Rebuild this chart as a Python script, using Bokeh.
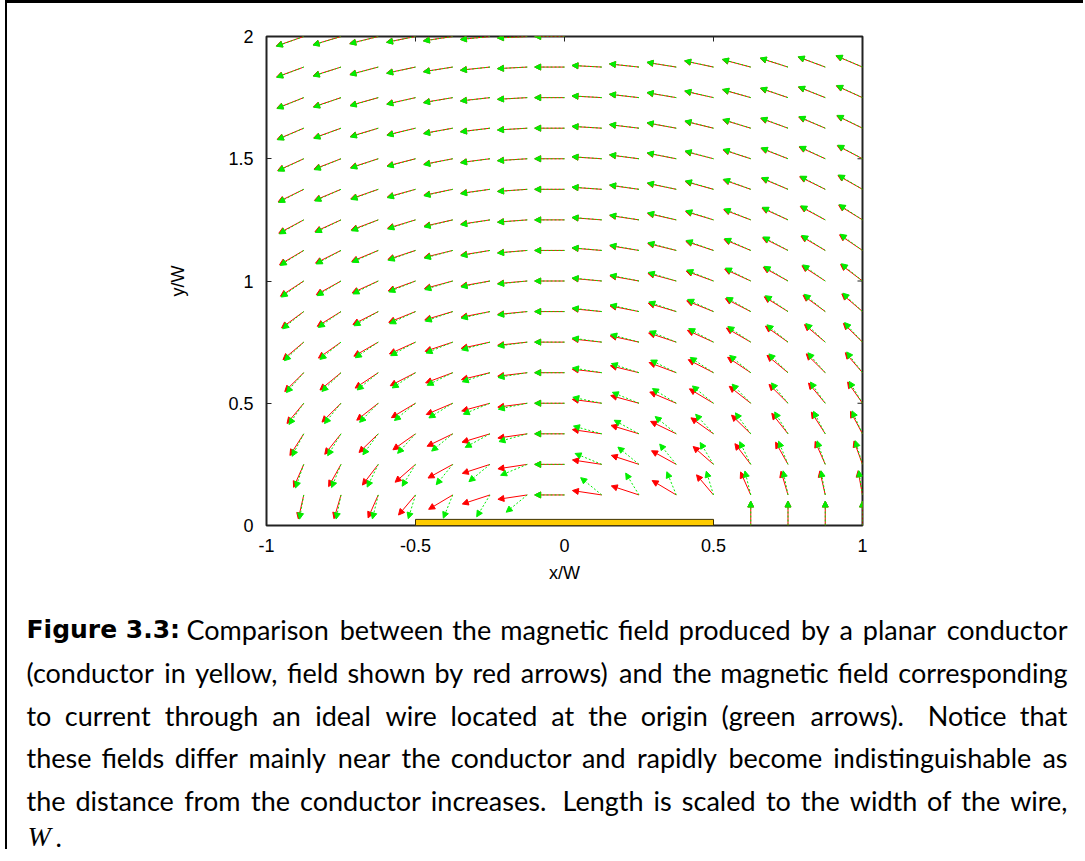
import math
from bokeh.plotting import figure
from bokeh.models import (ColumnDataSource, Arrow, NormalHead, FixedTicker, Range1d)
from bokeh.embed import file_html
from bokeh.resources import INLINE
from bokeh.core.properties import value

# ---------------- data ----------------
X_GRID = [-1.0, -0.875, -0.75, -0.625, -0.5, -0.375, -0.25, -0.125, 0.0,
          0.125, 0.25, 0.375, 0.5, 0.625, 0.75, 0.875, 1.0]
Y_GRID = [0.0, 0.125, 0.25, 0.375, 0.5, 0.625, 0.75, 0.875, 1.0,
          1.125, 1.25, 1.375, 1.5, 1.625, 1.75, 1.875, 2.0]
CONDUCTOR_X = [-0.5, 0.5]          # planar conductor (yellow strip), x/W
CONDUCTOR_THICKNESS = [0.025]      # drawn thickness, y/W
WIRE_POS = [0.0, 0.0]              # ideal wire at the origin
ARROW_LENGTH = 0.1                 # arrows normalised to this length
X_TICKS = [-1, -0.5, 0, 0.5, 1]
X_TICK_LABELS = ["-1", "-0.5", "0", "0.5", "1"]
Y_TICKS = [0, 0.5, 1, 1.5, 2]
Y_TICK_LABELS = ["0", "0.5", "1", "1.5", "2"]
X_LIMITS = [-1, 1]
Y_LIMITS = [0, 2]

CAPTION_BOLD = "Figure 3.3:"
CAPTION_LINES = [
    "Comparison between the magnetic field produced by a planar conductor",
    "(conductor in yellow, field shown by red arrows) and the magnetic field corresponding",
    "to current through an ideal wire located at the origin (green arrows). Notice that",
    "these fields differ mainly near the conductor and rapidly become indistinguishable as",
    "the distance from the conductor increases. Length is scaled to the width of the wire,",
]
CAPTION_LAST = "W"


# ---------------- field models (Biot-Savart) ----------------
def strip_field(x, y):
    a0, a1 = CONDUCTOR_X
    bx = -(math.atan2(x - a0, y) - math.atan2(x - a1, y))
    by = 0.5 * math.log(((x - a0) ** 2 + y ** 2) / ((x - a1) ** 2 + y ** 2))
    return bx, by


def wire_field(x, y):
    dx, dy = x - WIRE_POS[0], y - WIRE_POS[1]
    r2 = dx * dx + dy * dy
    return -dy / r2, dx / r2


def arrows(field):
    d = dict(x0=[], y0=[], x1=[], y1=[])
    eps = 1e-9
    for yv in Y_GRID:
        for xv in X_GRID:
            if yv == 0 and CONDUCTOR_X[0] <= xv <= CONDUCTOR_X[1]:
                continue
            bx, by = field(xv, yv)
            n = math.hypot(bx, by)
            xe = xv + ARROW_LENGTH * bx / n
            ye = yv + ARROW_LENGTH * by / n
            if (X_LIMITS[0] - eps <= xe <= X_LIMITS[1] + eps and
                    Y_LIMITS[0] - eps <= ye <= Y_LIMITS[1] + eps):
                d["x0"].append(xv); d["y0"].append(yv)
                d["x1"].append(xe); d["y1"].append(ye)
    return ColumnDataSource(d)


# ---------------- chart ----------------
W_TOTAL, OFF_X, OFF_Y = 1085, 7, 3
FIG_W = W_TOTAL - OFF_X
ROOT_GAP = 7          # the page puts a small gap between the two roots
H1 = 600 - ROOT_GAP

p = figure(width=FIG_W, height=H1, output_backend="svg", toolbar_location=None,
           x_range=Range1d(*X_LIMITS), y_range=Range1d(*Y_LIMITS),
           min_border_left=266 - OFF_X, min_border_right=FIG_W - (862 - OFF_X),
           min_border_top=36 - OFF_Y, min_border_bottom=OFF_Y + H1 - 525)
p.styles = {"vertical-align": "top", "border-left": "2px solid black",
            "border-top": "3px solid black", "margin-left": "5px"}
p.grid.visible = False
p.background_fill_color = "white"
p.border_fill_color = "white"
p.outline_line_color = "#222222"
p.outline_line_width = 2

FONT = "Liberation Sans"
for ax, ticks, labels in ((p.xaxis[0], X_TICKS, X_TICK_LABELS),
                          (p.yaxis[0], Y_TICKS, Y_TICK_LABELS)):
    ax.ticker = FixedTicker(ticks=ticks)
    ax.major_label_overrides = {t: l for t, l in zip(ticks, labels)}
    ax.major_tick_in = 5
    ax.major_tick_out = 0
    ax.minor_tick_line_color = None
    ax.major_tick_line_color = "#222222"
    ax.axis_line_color = None
    ax.major_label_text_font = FONT
    ax.major_label_text_font_size = "18px"
    ax.major_label_text_color = "black"
    ax.axis_label_text_font = FONT
    ax.axis_label_text_font_size = "18px"
    ax.axis_label_text_font_style = "normal"
    ax.axis_label_text_color = "black"

p.xaxis.major_tick_line_color = None   # bottom ticks drawn below the conductor
p.xaxis.axis_label = "x/W"
p.yaxis.axis_label = "y/W"
p.xaxis.major_label_standoff = 13
p.xaxis.axis_label_standoff = 8
p.yaxis.major_label_standoff = 13
p.yaxis.axis_label_standoff = 37

# tick marks on bottom, top and right borders (gnuplot style, pointing inwards)
TICK_DX = 5 / 298.0
TICK_DY = 5 / 244.5
nx, ny = len(X_TICKS), len(Y_TICKS)
p.segment(x0=X_TICKS * 2, x1=X_TICKS * 2,
          y0=[Y_LIMITS[0]] * nx + [Y_LIMITS[1]] * nx,
          y1=[Y_LIMITS[0] + TICK_DY] * nx + [Y_LIMITS[1] - TICK_DY] * nx,
          line_color="#222222", line_width=1)
p.segment(x0=[X_LIMITS[1]] * ny, x1=[X_LIMITS[1] - TICK_DX] * ny,
          y0=Y_TICKS, y1=Y_TICKS, line_color="#222222", line_width=1)

# conductor strip
p.quad(left=[CONDUCTOR_X[0]], right=[CONDUCTOR_X[1]], bottom=[0],
       top=CONDUCTOR_THICKNESS, fill_color="#ffcc00",
       line_color="#3d3000", line_width=1)

RED, GREEN = "#ff0000", "#00ee00"
p.add_layout(Arrow(end=NormalHead(size=6, fill_color=RED, line_color=RED,
                                  line_width=1),
                   x_start="x0", y_start="y0", x_end="x1", y_end="y1",
                   source=arrows(strip_field), line_color=RED, line_width=1))
p.add_layout(Arrow(end=NormalHead(size=6, fill_color=GREEN, line_color=GREEN,
                                  line_width=1),
                   x_start="x0", y_start="y0", x_end="x1", y_end="y1",
                   source=arrows(wire_field), line_color=GREEN, line_width=1,
                   line_dash="2 2"))

# ---------------- caption ----------------
TOP2 = 603
BOTTOM2 = 859
H2 = BOTTOM2 - TOP2
cap = figure(width=FIG_W, height=H2, output_backend="svg", toolbar_location=None,
             x_range=Range1d(OFF_X, W_TOTAL), y_range=Range1d(BOTTOM2, TOP2),
             x_axis_type=None, y_axis_type=None,
             min_border=0, min_border_left=0, min_border_right=0,
             min_border_top=0, min_border_bottom=0)
cap.styles = {"vertical-align": "top", "border-left": "2px solid black",
              "margin-left": "5px"}
cap.grid.visible = False
cap.outline_line_color = None
cap.background_fill_color = "white"
cap.border_fill_color = "white"

CFONT = "Lato"
CSIZE_PX = 27
PX_PER_EM = CSIZE_PX * 1.01
# approximate advance widths (em) used to justify the caption lines
CW = {"a": .51, "b": .56, "c": .46, "d": .56, "e": .52, "f": .32, "g": .50,
      "h": .56, "i": .24, "j": .24, "k": .49, "l": .24, "m": .84, "n": .56,
      "o": .56, "p": .56, "q": .56, "r": .36, "s": .42, "t": .34, "u": .56,
      "v": .49, "w": .76, "x": .48, "y": .50, "z": .44, "C": .66, "L": .48,
      "N": .75, "(": .30, ")": .30, ".": .22, ",": .22}
LEFT, RIGHT = 26, 1067
BASE = [639, 682, 725, 767, 810, 846]


def justify(words, left, right):
    widths = [sum(CW.get(c, .55) for c in w) * PX_PER_EM for w in words]
    weights = [1.6 if w.endswith(".") else 1.0 for w in words[:-1]]
    gap = (right - left - sum(widths)) / sum(weights)
    xs, x = [], left
    for i, w in enumerate(widths):
        xs.append(x)
        if i < len(weights):
            x += w + gap * weights[i]
    return xs


wx, wy, wt = [], [], []
last_x, last_y, last_t = [], [], []
for i, line in enumerate(CAPTION_LINES):
    words = line.split()
    left = 186 if i == 0 else LEFT
    xs = justify(words, left, RIGHT)
    wx += xs[:-1]; wy += [BASE[i]] * (len(words) - 1); wt += words[:-1]
    last_x.append(RIGHT); last_y.append(BASE[i]); last_t.append(words[-1])

cap.text(x=wx, y=wy, text=wt, text_font=value(CFONT),
         text_font_size=f"{CSIZE_PX}px", text_baseline="alphabetic",
         text_color="black")
cap.text(x=last_x, y=last_y, text=last_t, text_font=value(CFONT),
         text_font_size=f"{CSIZE_PX}px", text_baseline="alphabetic",
         text_align="right", text_color="black")
cap.text(x=[LEFT], y=[BASE[0]], text=[CAPTION_BOLD], text_font=value("DejaVu Sans"),
         text_font_size="25px", text_font_style="bold", text_baseline="alphabetic",
         text_color="black")
cap.text(x=[27], y=[BASE[5]], text=[CAPTION_LAST], text_font=value("Liberation Serif"),
         text_font_size="28px", text_font_style="italic",
         text_baseline="alphabetic", text_color="black")
cap.text(x=[55], y=[BASE[5]], text=["."], text_font=value(CFONT),
         text_font_size=f"{CSIZE_PX}px", text_baseline="alphabetic", text_color="black")

open("out.html", "w").write(file_html([p, cap], INLINE))
